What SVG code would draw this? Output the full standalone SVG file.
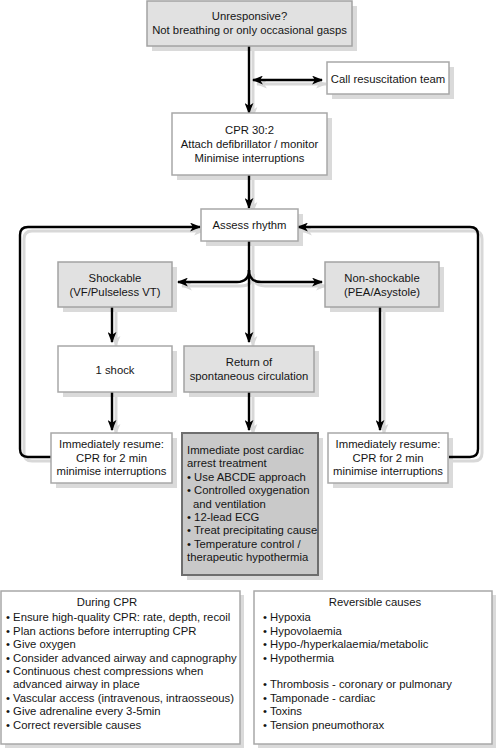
<svg xmlns="http://www.w3.org/2000/svg" width="499" height="750" viewBox="0 0 499 750">
<defs>
<style>
text{font-family:"Liberation Sans",Arial,sans-serif;font-size:11.3px;fill:#151515}
.c{text-anchor:middle}
.sh{fill:#dadada;stroke:none}
.g{fill:#e1e1e1;stroke:#a3a3a3;stroke-width:1.5}
.w{fill:#fff;stroke:#a8a8a8;stroke-width:1.5}
.d{fill:#c9c9c9;stroke:#6e6e6e;stroke-width:2}
.ln{fill:none;stroke:#000;stroke-width:2.4}
.ls{fill:none;stroke:#d8d8d8;stroke-width:3}
</style>
<marker id="ah" viewBox="0 0 10 8" refX="9" refY="4" markerWidth="11" markerHeight="9" markerUnits="userSpaceOnUse" orient="auto-start-reverse">
<path d="M0,0 L10,4 L0,8 L2.5,4 Z" fill="#000"/>
</marker>
<marker id="ahs" viewBox="0 0 10 8" refX="9" refY="4" markerWidth="11" markerHeight="9" markerUnits="userSpaceOnUse" orient="auto-start-reverse">
<path d="M0,0 L10,4 L0,8 L2.5,4 Z" fill="#d8d8d8"/>
</marker>
</defs>
<rect width="499" height="750" fill="#fff"/>

<g id="connectors-shadow" transform="translate(4,4)">
<path class="ls" d="M249,46 V113" marker-end="url(#ahs)"/>
<path class="ls" d="M253,80 H322" marker-start="url(#ahs)" marker-end="url(#ahs)"/>
<path class="ls" d="M249,175 V208" marker-end="url(#ahs)"/>
<path class="ls" d="M51,457 H28 Q20,457 20,449 V235 Q20,227 28,227 H200" marker-end="url(#ahs)"/>
<path class="ls" d="M449,457 H470 Q478,457 478,449 V235 Q478,227 470,227 H298" marker-end="url(#ahs)"/>
<path class="ls" d="M249,241 V342" marker-end="url(#ahs)"/>
<path class="ls" d="M249,270 Q249,282 237,282 H178" marker-end="url(#ahs)"/>
<path class="ls" d="M249,270 Q249,282 261,282 H322" marker-end="url(#ahs)"/>
<path class="ls" d="M112,307 V342" marker-end="url(#ahs)"/>
<path class="ls" d="M112,392 V430" marker-end="url(#ahs)"/>
<path class="ls" d="M249,392 V430" marker-end="url(#ahs)"/>
<path class="ls" d="M380,307 V430" marker-end="url(#ahs)"/>
</g>

<g id="shadows">
<rect class="sh" x="152" y="6" width="205" height="45"/>
<rect class="sh" x="332" y="67" width="122" height="32"/>
<rect class="sh" x="177" y="118" width="155" height="62"/>
<rect class="sh" x="206" y="214" width="97" height="32"/>
<rect class="sh" x="63" y="267" width="114" height="45"/>
<rect class="sh" x="330" y="267" width="114" height="45"/>
<rect class="sh" x="63" y="351" width="114" height="46"/>
<rect class="sh" x="189" y="351" width="130" height="46"/>
<rect class="sh" x="56" y="438" width="121" height="50"/>
<rect class="sh" x="187" y="438" width="136" height="142"/>
<rect class="sh" x="333" y="438" width="120" height="50"/>
<rect class="sh" x="5" y="595" width="239" height="153"/>
<rect class="sh" x="258" y="595" width="238" height="153"/>
</g>

<g id="connectors">
<path class="ln" d="M249,46 V113" marker-end="url(#ah)"/>
<path class="ln" d="M253,80 H322" marker-start="url(#ah)" marker-end="url(#ah)"/>
<path class="ln" d="M249,175 V208" marker-end="url(#ah)"/>
<path class="ln" d="M51,457 H28 Q20,457 20,449 V235 Q20,227 28,227 H200" marker-end="url(#ah)"/>
<path class="ln" d="M449,457 H470 Q478,457 478,449 V235 Q478,227 470,227 H298" marker-end="url(#ah)"/>
<path class="ln" d="M249,241 V342" marker-end="url(#ah)"/>
<path class="ln" d="M249,270 Q249,282 237,282 H178" marker-end="url(#ah)"/>
<path class="ln" d="M249,270 Q249,282 261,282 H322" marker-end="url(#ah)"/>
<path class="ln" d="M112,307 V342" marker-end="url(#ah)"/>
<path class="ln" d="M112,392 V430" marker-end="url(#ah)"/>
<path class="ln" d="M249,392 V430" marker-end="url(#ah)"/>
<path class="ln" d="M380,307 V430" marker-end="url(#ah)"/>
</g>

<g id="unresponsive">
<rect class="g" x="147" y="1" width="205" height="45"/>
<text class="c" x="249.5" y="20">Unresponsive?</text>
<text class="c" x="249.5" y="34">Not breathing or only occasional gasps</text>
</g>
<g id="call-team">
<rect class="w" x="327" y="62" width="122" height="32"/>
<text class="c" x="388" y="82.5">Call resuscitation team</text>
</g>
<g id="cpr">
<rect class="w" x="172" y="113" width="155" height="62"/>
<text class="c" x="249.5" y="134">CPR 30:2</text>
<text class="c" x="249.5" y="148">Attach defibrillator / monitor</text>
<text class="c" x="249.5" y="161.5">Minimise interruptions</text>
</g>
<g id="assess">
<rect class="w" x="201" y="209" width="97" height="32"/>
<text class="c" x="249.5" y="229">Assess rhythm</text>
</g>
<g id="shockable">
<rect class="g" x="58" y="262" width="114" height="45"/>
<text class="c" x="115" y="281.5">Shockable</text>
<text class="c" x="115" y="295.5">(VF/Pulseless VT)</text>
</g>
<g id="nonshockable">
<rect class="g" x="325" y="262" width="114" height="45"/>
<text class="c" x="382" y="281.5">Non-shockable</text>
<text class="c" x="382" y="295.5">(PEA/Asystole)</text>
</g>
<g id="shock">
<rect class="w" x="58" y="346" width="114" height="46"/>
<text class="c" x="115" y="373.5">1 shock</text>
</g>
<g id="rosc">
<rect class="g" x="184" y="346" width="130" height="46"/>
<text class="c" x="249" y="366">Return of</text>
<text class="c" x="249" y="379.5">spontaneous circulation</text>
</g>
<g id="resume-left">
<rect class="w" x="51" y="433" width="121" height="50"/>
<text class="c" x="111.5" y="448">Immediately resume:</text>
<text class="c" x="111.5" y="461.5">CPR for 2 min</text>
<text class="c" x="111.5" y="475">minimise interruptions</text>
</g>
<g id="post-arrest">
<rect class="d" x="182" y="433" width="136" height="142"/>
<text x="187" y="454">Immediate post cardiac</text>
<text x="187" y="467.4">arrest treatment</text>
<text x="187" y="480.8">• Use ABCDE approach</text>
<text x="187" y="494.2">• Controlled oxygenation</text>
<text x="193" y="507.6">and ventilation</text>
<text x="187" y="521">• 12-lead ECG</text>
<text x="187" y="534.4">• Treat precipitating cause</text>
<text x="187" y="547.8">• Temperature control /</text>
<text x="187" y="561.2">therapeutic hypothermia</text>
</g>
<g id="resume-right">
<rect class="w" x="328" y="433" width="120" height="50"/>
<text class="c" x="388" y="448">Immediately resume:</text>
<text class="c" x="388" y="461.5">CPR for 2 min</text>
<text class="c" x="388" y="475">minimise interruptions</text>
</g>
<g id="during-cpr">
<rect class="w" x="1" y="591" width="239" height="153"/>
<text class="c" x="107" y="606">During CPR</text>
<text x="6" y="621.3">• Ensure high-quality CPR: rate, depth, recoil</text>
<text x="6" y="634.7">• Plan actions before interrupting CPR</text>
<text x="6" y="648.1">• Give oxygen</text>
<text x="6" y="661.5">• Consider advanced airway and capnography</text>
<text x="6" y="674.9">• Continuous chest compressions when</text>
<text x="13" y="688.3">advanced airway in place</text>
<text x="6" y="701.7">• Vascular access (intravenous, intraosseous)</text>
<text x="6" y="715.1">• Give adrenaline every 3-5min</text>
<text x="6" y="728.5">• Correct reversible causes</text>
</g>
<g id="reversible-causes">
<rect class="w" x="254" y="591" width="238" height="153"/>
<text class="c" x="375" y="606">Reversible causes</text>
<text x="263" y="621.3">• Hypoxia</text>
<text x="263" y="634.7">• Hypovolaemia</text>
<text x="263" y="648.1">• Hypo-/hyperkalaemia/metabolic</text>
<text x="263" y="661.5">• Hypothermia</text>
<text x="263" y="688.3">• Thrombosis - coronary or pulmonary</text>
<text x="263" y="701.7">• Tamponade - cardiac</text>
<text x="263" y="715.1">• Toxins</text>
<text x="263" y="728.5">• Tension pneumothorax</text>
</g>
</svg>
